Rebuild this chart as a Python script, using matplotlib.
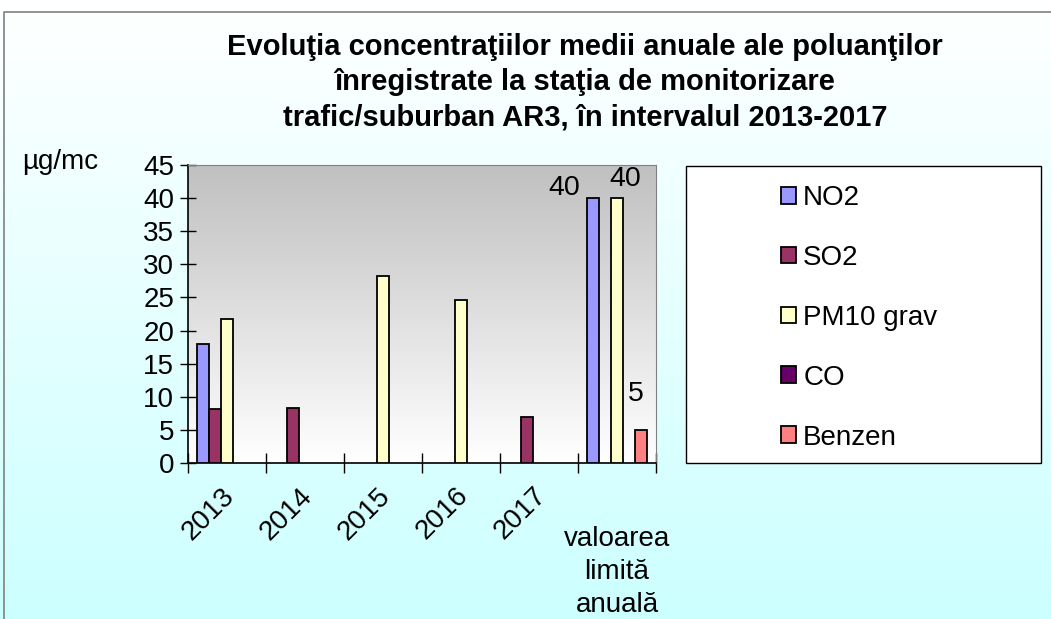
import numpy as np
import matplotlib
matplotlib.use("Agg")
import matplotlib.pyplot as plt
from matplotlib.colors import LinearSegmentedColormap
from matplotlib.patches import Rectangle
from matplotlib.transforms import ScaledTranslation

plt.rcParams['font.family'] = ['Liberation Sans', 'DejaVu Sans']

categories = ["2013", "2014", "2015", "2016", "2017", "valoarea\nlimită\nanuală"]
series = ["NO2", "SO2", "PM10 grav", "CO", "Benzen"]
no2 = [18.0, np.nan, np.nan, np.nan, np.nan, 40]
so2 = [8.2, 8.35, np.nan, np.nan, 7.0, np.nan]
pm10 = [21.7, np.nan, 28.2, 24.6, np.nan, 40]
co = [np.nan, np.nan, np.nan, np.nan, np.nan, np.nan]
benzen = [np.nan, np.nan, np.nan, np.nan, np.nan, 5]
values = [no2, so2, pm10, co, benzen]
colors = ["#9999FF", "#993366", "#FFFFCC", "#660066", "#FF8080"]
title = ("Evoluţia concentraţiilor medii anuale ale poluanţilor\n"
         "înregistrate la staţia de monitorizare\n"
         "trafic/suburban AR3, în intervalul 2013-2017")
ylabel = "µg/mc"
yticks = [0, 5, 10, 15, 20, 25, 30, 35, 40, 45]

W, H = 1051, 619
fig = plt.figure(figsize=(W / 100, H / 100), dpi=100)

# figure background gradient (white -> light cyan)
bg = fig.add_axes([0, 0, 1, 1], zorder=-10)
grad = np.linspace(0, 1, 256).reshape(-1, 1)
cmap_bg = LinearSegmentedColormap.from_list("bg", ["#FFFFFF", "#CCFFFF"])
bg.imshow(grad, aspect="auto", cmap=cmap_bg, extent=[0, 1, 0, 1], origin="upper")
bg.set_xlim(0, 1)
bg.set_ylim(0, 1)
bg.axis("off")
# chart area border
bg.plot([4 / W, 4 / W, 1.0], [0, 1 - 12 / H, 1 - 12 / H], color="#808080", lw=1.2)
# legend box
bg.add_patch(Rectangle((686 / W, 1 - 463 / H), 355 / W, 297 / H, facecolor="white",
                       edgecolor="black", lw=1, zorder=2))

ax = fig.add_axes([188 / W, 1 - 463 / H, 468 / W, 298 / H])
ax.set_xlim(-0.5, len(categories) - 0.5)
ax.set_ylim(0, 45)

cmap_pl = LinearSegmentedColormap.from_list("pl", ["#FFFFFF", "#C0C0C0"])
ax.imshow(np.linspace(0, 1, 256).reshape(-1, 1), aspect="auto", cmap=cmap_pl,
          extent=[-0.5, len(categories) - 0.5, 0, 45], origin="lower", zorder=0)

n = len(series)
w = 1 / (n + 1.5)
x = np.arange(len(categories))
bars = []
for j, (s, vals, c) in enumerate(zip(series, values, colors)):
    pos = x - 0.5 + 0.75 * w + (j + 0.5) * w
    b = ax.bar(pos, vals, width=w, color=c, edgecolor="black", linewidth=1.3,
               label=s, zorder=3)
    bars.append(b)

# data labels for annual limit values
label_offsets = {0: (-21, 7), 2: (6, 14), 4: (-4, 26)}
last = len(categories) - 1
for j, off in label_offsets.items():
    v = values[j][last]
    xc = last - 0.5 + 0.75 * w + (j + 0.5) * w
    ax.annotate(f"{v:g}", (xc, v), xytext=off, textcoords="offset points",
                ha="center", va="center", fontsize=20.5, zorder=5)

ax.set_yticks(yticks)
ax.tick_params(axis="y", direction="inout", length=12, width=1, labelsize=20, pad=4)
ax.set_xticks(x)
ax.set_xticklabels(categories)
ax.set_xticks(np.arange(len(categories) + 1) - 0.5, minor=True)
ax.tick_params(axis="x", which="major", length=0, labelsize=20, pad=12)
ax.tick_params(axis="x", which="minor", direction="inout", length=14, width=1)
shift = ScaledTranslation(-6 / 100, -3 / 100, fig.dpi_scale_trans)
for i, lbl in enumerate(ax.get_xticklabels()):
    if i < last:
        lbl.set_rotation(45)
        lbl.set_ha("right")
        lbl.set_va("top")
        lbl.set_rotation_mode("anchor")
        lbl.set_transform(lbl.get_transform() + shift)
    else:
        lbl.set_ha("center")
        lbl.set_va("top")
        lbl.set_linespacing(1.35)
        lbl.set_y(-0.155)

for side in ["top", "right"]:
    ax.spines[side].set_color("#808080")
for side in ["left", "bottom"]:
    ax.spines[side].set_color("black")
    ax.spines[side].set_linewidth(1.2)

fig.text(585 / W, 1 - 82 / H, title, ha="center", va="center", fontsize=21,
         fontweight="bold", linespacing=1.32)
fig.text(22 / W, 1 - 162 / H, ylabel, ha="left", va="center", fontsize=20)

leg = fig.legend(handles=bars, labels=series, loc="upper left",
                 bbox_to_anchor=(781 / W, 1 - 185 / H),
                 bbox_transform=fig.transFigure, fontsize=20, frameon=False,
                 handlelength=0.55, handleheight=0.55, handletextpad=0.25,
                 labelspacing=1.22, borderpad=0, borderaxespad=0)
leg.set_zorder(5)

fig.savefig("out.png", dpi=100)
